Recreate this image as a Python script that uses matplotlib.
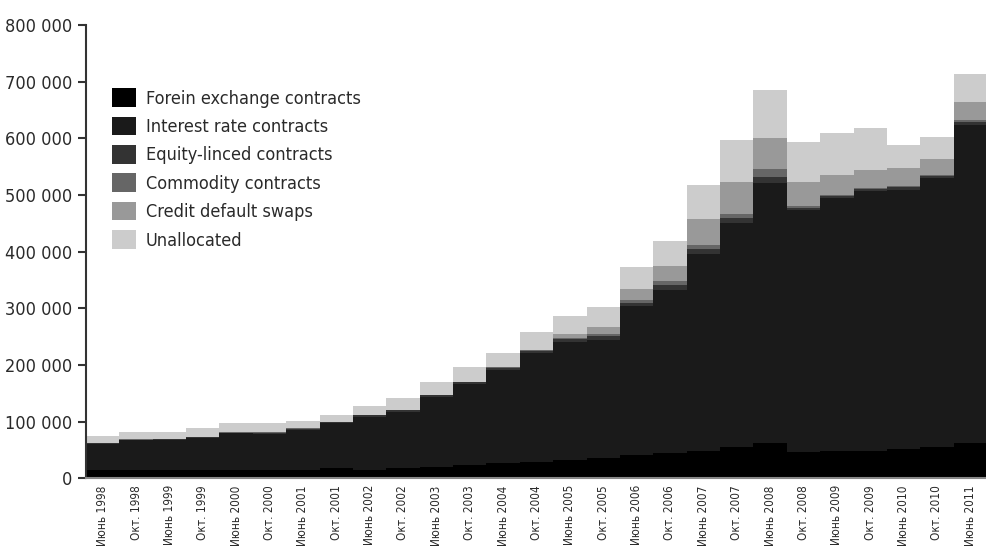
import matplotlib
matplotlib.use("Agg")
import matplotlib.pyplot as plt
from matplotlib.ticker import FuncFormatter
import numpy as np

plt.rcParams['font.family'] = ['DejaVu Sans']
plt.rcParams['font.stretch'] = 'condensed'

# Periods (BIS semiannual data)
periods = ["Июнь 1998", "Окт. 1998", "Июнь 1999", "Окт. 1999", "Июнь 2000", "Окт. 2000",
           "Июнь 2001", "Окт. 2001", "Июнь 2002", "Окт. 2002", "Июнь 2003", "Окт. 2003",
           "Июнь 2004", "Окт. 2004", "Июнь 2005", "Окт. 2005", "Июнь 2006", "Окт. 2006",
           "Июнь 2007", "Окт. 2007", "Июнь 2008", "Окт. 2008", "Июнь 2009", "Окт. 2009",
           "Июнь 2010", "Окт. 2010", "Июнь 2011"]

# values, bn USD
fx = [15000, 15000, 15000, 15000, 15000, 15000, 15000, 19000, 15000, 18000, 20500, 23500,
      27500, 29500, 32000, 35000, 41000, 44000, 48500, 56000, 62000, 47000, 47500, 48500,
      52500, 55500, 62000]
interest = [45100, 51900, 51700, 56000, 64100, 63700, 70800, 78500, 93800, 99500, 122900, 142000,
            162700, 191400, 209300, 209300, 262200, 288700, 347500, 394000, 459200, 425800, 447200, 457900,
            456900, 474500, 562000]
equity = [1300, 1500, 1800, 2000, 1600, 1900, 1900, 1900, 2200, 2300, 2800, 3800,
          4500, 4400, 4500, 6000, 6500, 7600, 8500, 8500, 10000, 4500, 4000, 4000,
          4500, 3500, 5000]
commodity = [400, 500, 400, 500, 600, 700, 600, 600, 800, 900, 1000, 1400,
             1300, 1400, 1500, 5000, 4100, 7000, 8000, 8500, 15000, 2600, 1800, 2000,
             2500, 2400, 4000]
cds = [0, 0, 0, 0, 0, 0, 0, 0, 0, 0, 0, 0,
       0, 0, 7700, 12500, 20200, 27700, 45600, 55300, 54500, 42400, 35400, 31100,
       31300, 27700, 30600]
unallocated = [13500, 12400, 13400, 14800, 15900, 15900, 13500, 11800, 15100, 20600, 23500, 25300,
               24800, 31300, 30500, 33600, 38800, 44300, 58800, 75400, 85300, 70700, 72800, 74900,
               39900, 38900, 49000]

series = [
    ("Forein exchange contracts", fx, "#000000"),
    ("Interest rate contracts", interest, "#1a1a1a"),
    ("Equity-linced contracts", equity, "#333333"),
    ("Commodity contracts", commodity, "#666666"),
    ("Credit default swaps", cds, "#999999"),
    ("Unallocated", unallocated, "#cccccc"),
]

fig = plt.figure(figsize=(9.87, 5.51), dpi=100)
ax = fig.add_axes([0.0871, 0.132, 0.9129, 0.8227])

x = np.arange(len(periods))
bottom = np.zeros(len(periods))
for label, vals, color in series:
    vals = np.array(vals, dtype=float)
    ax.bar(x, vals, width=1.0, bottom=bottom, color=color, label=label, linewidth=0)
    bottom += vals

txt = "#2a2a2a"
ax.set_xlim(-0.5, len(periods) - 0.5)
ax.set_ylim(0, 800000)
ax.set_yticks(np.arange(0, 800001, 100000))
ax.yaxis.set_major_formatter(FuncFormatter(lambda v, p: f"{int(v):,}".replace(",", " ")))
ax.set_xticks(x)
ax.set_xticklabels(periods, rotation=90, fontsize=8.5, color=txt)
ax.tick_params(axis='x', length=0, pad=5)
ax.tick_params(axis='y', length=6, width=1.5, color="#333333", labelsize=13, labelcolor=txt, pad=4)

for s in ["top", "right"]:
    ax.spines[s].set_visible(False)
ax.spines["left"].set_color("#333333")
ax.spines["left"].set_linewidth(1.5)
ax.spines["bottom"].set_color("#888888")
ax.spines["bottom"].set_linewidth(1.5)

leg = ax.legend(loc="upper left", bbox_to_anchor=(0.015, 0.888), frameon=False, fontsize=13,
                handlelength=1.3, handleheight=1.2, handletextpad=0.55, labelspacing=0.5,
                borderaxespad=0.3)
for t in leg.get_texts():
    t.set_color(txt)

fig.savefig("out.png", dpi=100)
